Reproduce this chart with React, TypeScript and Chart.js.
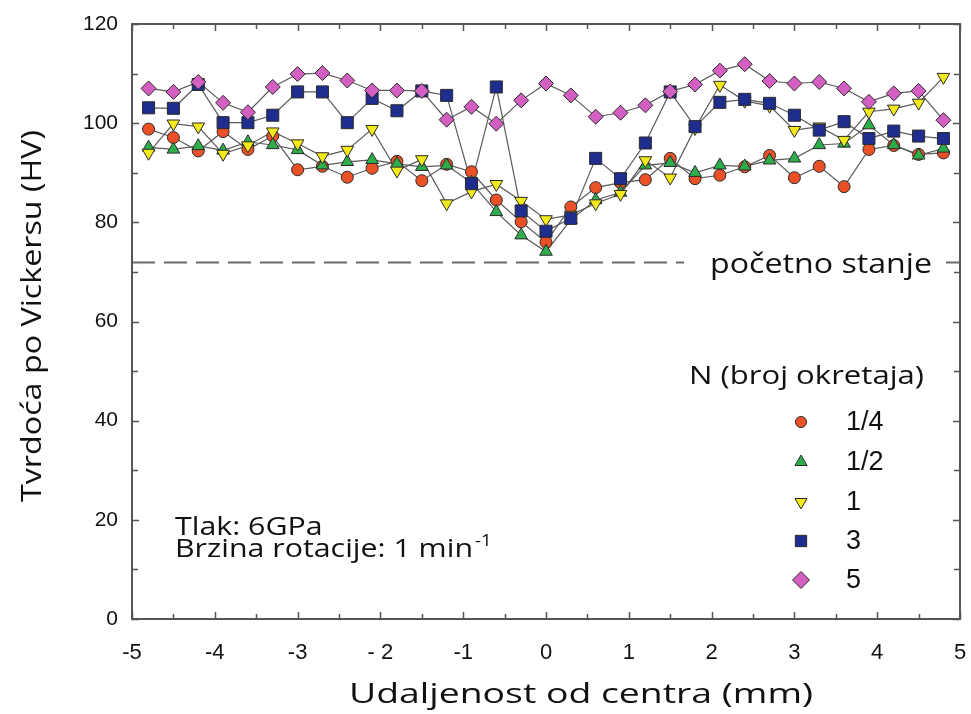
import React, { useEffect, useRef } from 'react';
import { Chart, registerables } from 'chart.js';
Chart.register(...registerables);

// ---------- data ----------
const positionsMm = [-4.8, -4.5, -4.2, -3.9, -3.6, -3.3, -3.0, -2.7, -2.4, -2.1, -1.8, -1.5, -1.2, -0.9, -0.6, -0.3, 0, 0.3, 0.6, 0.9, 1.2, 1.5, 1.8, 2.1, 2.4, 2.7, 3.0, 3.3, 3.6, 3.9, 4.2, 4.5, 4.8];
const hvN1_4 = [98.8, 97.1, 94.4, 98.3, 94.7, 97.4, 90.6, 91.3, 89.1, 90.9, 92.3, 88.4, 91.7, 90.2, 84.5, 80.1, 76.0, 83.1, 87.0, 88.0, 88.6, 92.9, 88.8, 89.5, 91.2, 93.5, 89.0, 91.3, 87.2, 94.7, 95.5, 93.7, 94.0];
const hvN1_2 = [95.1, 94.7, 95.4, 94.5, 96.2, 95.6, 94.6, 91.5, 92.2, 92.6, 91.8, 91.2, 91.5, 88.0, 82.1, 77.4, 74.1, 80.5, 84.5, 86.0, 91.5, 92.0, 90.0, 91.5, 91.3, 92.5, 92.9, 95.6, 95.9, 99.6, 95.6, 93.5, 94.9];
const hvN1 = [94.0, 99.9, 99.3, 93.8, 95.5, 98.3, 95.9, 93.3, 94.6, 98.8, 90.4, 92.7, 83.8, 86.2, 87.7, 84.3, 80.6, 81.5, 83.8, 85.7, 92.5, 89.0, 99.0, 107.7, 104.5, 103.5, 98.6, 99.3, 96.6, 102.3, 102.9, 104.1, 109.3];
const hvN3 = [103.1, 103.0, 107.8, 100.1, 100.1, 101.6, 106.3, 106.3, 100.1, 105.0, 102.5, 106.5, 105.6, 87.8, 107.3, 82.3, 78.2, 80.8, 92.9, 88.8, 96.0, 106.3, 99.3, 104.2, 104.8, 104.0, 101.6, 98.6, 100.3, 96.9, 98.4, 97.4, 96.9];
const hvN5 = [107.0, 106.3, 108.3, 104.1, 102.2, 107.3, 109.9, 110.1, 108.6, 106.6, 106.6, 106.5, 100.7, 103.3, 99.9, 104.6, 108.0, 105.6, 101.3, 102.1, 103.6, 106.4, 107.8, 110.6, 111.9, 108.5, 108.0, 108.3, 107.0, 104.3, 106.0, 106.5, 100.6];
const seriesLabels = ['1/4', '1/2', '1', '3', '5'];
const initialHV = 72;
const initialLabel = 'početno stanje';
const legendTitle = 'N (broj okretaja)';
const noteLines = ['Tlak: 6GPa', 'Brzina rotacije: 1 min'];
const noteSup = '-1';
const xTitle = 'Udaljenost od centra (mm)';
const yTitle = 'Tvrdoća po Vickersu (HV)';

// ---------- styles ----------
const SERIES_DATA = [hvN1_4, hvN1_2, hvN1, hvN3, hvN5];
const STYLES = [
  { color: '#EA5127', style: 'circle', r: 6, rot: 0 },
  { color: '#2EAE4B', style: 'triangle', r: 7.3, rot: 0 },
  { color: '#F4EA1B', style: 'triangle', r: 7.3, rot: 180 },
  { color: '#1F2D8E', style: 'rect', r: 8.5, rot: 0 },
  { color: '#D35FC3', style: 'rectRot', r: 7.5, rot: 0 },
];
const CAL = '"Open Sans", "Noto Sans", sans-serif';
const ARI = '"Liberation Sans", Arial, sans-serif';

function drawText(ctx: CanvasRenderingContext2D, text: string, x: number, y: number, size: number, sx: number, align: CanvasTextAlign = 'left', family = CAL) {
  ctx.save();
  ctx.font = `${size}px ${family}`;
  const w = ctx.measureText(text).width;
  ctx.translate(x, y);
  ctx.scale(sx, 1);
  ctx.textAlign = align;
  ctx.textBaseline = 'alphabetic';
  ctx.fillStyle = '#111';
  ctx.fillText(text, 0, 0);
  ctx.restore();
  return w * sx;
}

function measure(ctx: CanvasRenderingContext2D, text: string, size: number, family = CAL) {
  ctx.save();
  ctx.font = `${size}px ${family}`;
  const w = ctx.measureText(text).width;
  ctx.restore();
  return w;
}

function fitText(ctx: CanvasRenderingContext2D, text: string, x: number, y: number, size: number, targetW: number, align: CanvasTextAlign = 'left') {
  const s = targetW / measure(ctx, text, size);
  return drawText(ctx, text, x, y, size, s, align);
}

function marker(ctx: CanvasRenderingContext2D, style: string, x: number, y: number, r: number, rot: number, fill: string) {
  ctx.save();
  ctx.beginPath();
  if (style === 'circle') {
    ctx.arc(x, y, r, 0, Math.PI * 2);
  } else if (style === 'triangle') {
    let rad = (rot * Math.PI) / 180;
    ctx.moveTo(x + Math.sin(rad) * r, y - Math.cos(rad) * r);
    rad += (2 * Math.PI) / 3;
    ctx.lineTo(x + Math.sin(rad) * r, y - Math.cos(rad) * r);
    rad += (2 * Math.PI) / 3;
    ctx.lineTo(x + Math.sin(rad) * r, y - Math.cos(rad) * r);
    ctx.closePath();
  } else if (style === 'rect') {
    const s = Math.SQRT1_2 * r;
    ctx.rect(x - s, y - s, 2 * s, 2 * s);
  } else {
    ctx.moveTo(x - r, y);
    ctx.lineTo(x, y - r);
    ctx.lineTo(x + r, y);
    ctx.lineTo(x, y + r);
    ctx.closePath();
  }
  ctx.fillStyle = fill;
  ctx.fill();
  ctx.lineWidth = 1;
  ctx.strokeStyle = '#2a2a2a';
  ctx.stroke();
  ctx.restore();
}

const decor = {
  id: 'decor',
  beforeDatasetsDraw(chart: any) {
    const { ctx, chartArea, scales } = chart;
    const y = Math.round(scales.y.getPixelForValue(initialHV)) + 0.5;
    ctx.save();
    ctx.strokeStyle = '#6a6a6a';
    ctx.lineWidth = 2;
    ctx.setLineDash([23, 9]);
    ctx.beginPath();
    ctx.moveTo(chartArea.left, y);
    ctx.lineTo(684, y);
    ctx.stroke();
    ctx.setLineDash([]);
    ctx.beginPath();
    ctx.moveTo(946, y);
    ctx.lineTo(chartArea.right, y);
    ctx.stroke();
    ctx.restore();
    fitText(ctx, initialLabel, 710, y + 10, 28, 222);
  },
  afterDraw(chart: any) {
    const { ctx, chartArea: a, scales } = chart;
    ctx.save();
    // ticks (inward, all four sides)
    ctx.strokeStyle = '#555';
    ctx.lineWidth = 1.5;
    ctx.beginPath();
    scales.x.ticks.forEach((t: any) => {
      const px = Math.round(scales.x.getPixelForValue(t.value)) + 0.5;
      const len = Number.isInteger(t.value) ? 7 : 5;
      ctx.moveTo(px, a.bottom); ctx.lineTo(px, a.bottom - len);
      ctx.moveTo(px, a.top); ctx.lineTo(px, a.top + len);
    });
    scales.y.ticks.forEach((t: any) => {
      const py = Math.round(scales.y.getPixelForValue(t.value)) + 0.5;
      const len = t.value % 20 === 0 ? 7 : 6;
      ctx.moveTo(a.left, py); ctx.lineTo(a.left + len, py);
      ctx.moveTo(a.right, py); ctx.lineTo(a.right - len, py);
    });
    ctx.stroke();
    // frame
    ctx.strokeStyle = '#555';
    ctx.lineWidth = 2;
    ctx.strokeRect(a.left, a.top, a.right - a.left, a.bottom - a.top);
    ctx.restore();

    // axis titles
    fitText(ctx, xTitle, 349, 703, 28, 464);
    ctx.save();
    ctx.translate(41, 316);
    ctx.rotate(-Math.PI / 2);
    fitText(ctx, yTitle, 0, 0, 28, 372, 'center');
    ctx.restore();

    // notes (same font & scale for both lines)
    const noteSize = 26;
    const sx = 298 / measure(ctx, noteLines[1], noteSize);
    drawText(ctx, noteLines[0], 175, 535, noteSize, sx);
    const w = drawText(ctx, noteLines[1], 175, 557, noteSize, sx);
    drawText(ctx, noteSup, 175 + w + 2, 546, 16, sx);

    // legend
    fitText(ctx, legendTitle, 689, 384, 26, 235);
    const rows = [422, 462, 502, 541, 580];
    STYLES.forEach((s, i) => {
      const lr = s.style === 'circle' ? 5.5 : s.style === 'rect' ? 8 : s.style === 'rectRot' ? 8.5 : 7;
      marker(ctx, s.style, 801, rows[i], lr, s.rot, s.color);
      ctx.save();
      ctx.font = `27px ${ARI}`;
      ctx.fillStyle = '#111';
      ctx.textAlign = 'left';
      ctx.textBaseline = 'middle';
      ctx.fillText(seriesLabels[i], 846, rows[i] + 1);
      ctx.restore();
    });
  },
};

const hiddenGrid = (len: number) => ({
  display: true,
  drawOnChartArea: false,
  drawTicks: true,
  tickLength: len,
  color: 'rgba(0,0,0,0)',
});

export default function App() {
  const ref = useRef<HTMLCanvasElement>(null);
  useEffect(() => {
    const pts = (arr: number[]) => positionsMm.map((x, i) => ({ x, y: arr[i] }));
    const lineSets = SERIES_DATA.map((d) => ({
      data: pts(d),
      showLine: true,
      borderColor: '#5a5a5a',
      borderWidth: 1.2,
      pointRadius: 0,
      pointHoverRadius: 0,
      order: 10,
    }));
    const pointSets = SERIES_DATA.map((d, i) => ({
      label: seriesLabels[i],
      data: pts(d),
      showLine: false,
      pointStyle: STYLES[i].style,
      pointRadius: STYLES[i].r,
      pointRotation: STYLES[i].rot,
      backgroundColor: STYLES[i].color,
      borderColor: '#2a2a2a',
      borderWidth: 1,
      order: 5 - i,
    }));
    const chart = new Chart(ref.current!, {
      type: 'scatter',
      data: { datasets: [...lineSets, ...pointSets] as any },
      options: {
        responsive: false,
        animation: false,
        devicePixelRatio: 1,
        layout: { padding: { top: 24, right: 11, left: 0, bottom: 0 } },
        plugins: { legend: { display: false }, tooltip: { enabled: false } },
        scales: {
          x: {
            type: 'linear',
            min: -5,
            max: 5,
            grid: hiddenGrid(18),
            border: { display: false },
            ticks: {
              stepSize: 0.5,
              autoSkip: false,
              maxRotation: 0,
              padding: 3,
              color: '#111',
              font: { family: ARI, size: 22 },
              callback: (v: any) => (Number.isInteger(v) ? (v === -2 ? '- 2' : String(v)) : ''),
            },
            afterFit: (s: any) => { s.height = 95; },
          },
          y: {
            min: 0,
            max: 120,
            grid: hiddenGrid(11),
            border: { display: false },
            ticks: {
              stepSize: 10,
              autoSkip: false,
              padding: 3,
              color: '#111',
              font: { family: ARI, size: 21 },
              callback: (v: any) => (v % 20 === 0 ? String(v) : ''),
            },
            afterFit: (s: any) => { s.width = 132; },
          },
        },
      },
      plugins: [decor],
    } as any);
    return () => chart.destroy();
  }, []);
  return (
    <div style={{ position: 'absolute', left: 0, top: 0, width: 971, height: 714, background: '#fff' }}>
      <canvas ref={ref} width={971} height={714} style={{ display: 'block', width: 971, height: 714 }} />
    </div>
  );
}
